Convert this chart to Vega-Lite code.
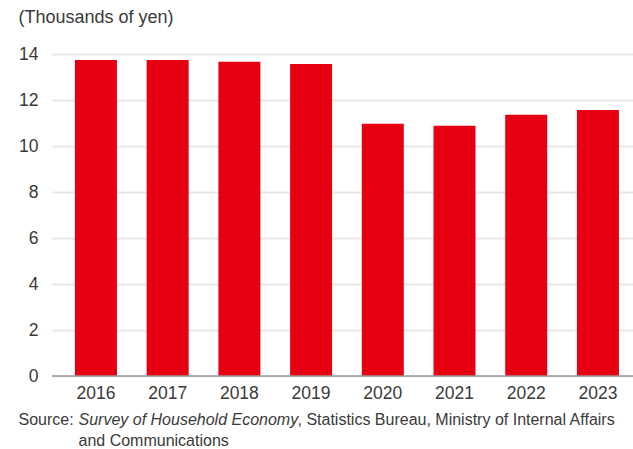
{
  "$schema": "https://vega.github.io/schema/vega-lite/v6.json",
  "width": 581,
  "height": 322,
  "autosize": {"type": "none"},
  "padding": {"left": 52, "top": 54, "right": 0, "bottom": 73},
  "background": "white",
  "config": {
    "view": {"stroke": null},
    "font": "Liberation Sans",
    "axis": {
      "labelFont": "Liberation Sans",
      "titleFont": "Liberation Sans",
      "labelColor": "#3a3a3a",
      "titleColor": "#3a3a3a",
      "titleFontWeight": "normal"
    }
  },
  "data": {
    "values": [
      {"year": "2016", "value": 13.74},
      {"year": "2017", "value": 13.74},
      {"year": "2018", "value": 13.66},
      {"year": "2019", "value": 13.57},
      {"year": "2020", "value": 10.97},
      {"year": "2021", "value": 10.88},
      {"year": "2022", "value": 11.36},
      {"year": "2023", "value": 11.57}
    ]
  },
  "layer": [
    {
      "mark": {"type": "bar", "color": "#E60012"},
      "encoding": {
        "x": {
          "field": "year",
          "type": "ordinal",
          "scale": {"paddingInner": 0.4143, "paddingOuter": 0.258, "align": 0.62},
          "axis": {
            "title": "Source:",
            "titleFontSize": 16,
            "titleAngle": 0,
            "titleAlign": "left",
            "titleBaseline": "alphabetic",
            "titleAnchor": null,
            "titleX": -34,
            "titleY": 48.5,
            "labelAngle": 0,
            "labelFontSize": 17.5,
            "labelPadding": 8,
            "ticks": false,
            "tickSize": 0,
            "domain": false
          }
        },
        "y": {
          "field": "value",
          "type": "quantitative",
          "scale": {"domain": [0, 14], "nice": false},
          "axis": {
            "title": "(Thousands of yen)",
            "titleFontSize": 18,
            "titleAngle": 0,
            "titleAlign": "left",
            "titleBaseline": "alphabetic",
            "titleAnchor": null,
            "titleX": -34,
            "titleY": -31.5,
            "values": [0, 2, 4, 6, 8, 10, 12, 14],
            "labelFontSize": 17.5,
            "labelPadding": 14,
            "ticks": false,
            "tickSize": 0,
            "domain": false,
            "grid": true,
            "gridColor": "#e8e8e8",
            "gridWidth": 2
          }
        }
      }
    },
    {
      "mark": {"type": "bar", "opacity": 0},
      "encoding": {
        "x": {
          "field": "year",
          "type": "ordinal",
          "axis": {
            "orient": "bottom",
            "title": "Survey of Household Economy",
            "titleFontSize": 16,
            "titleFontStyle": "italic",
            "titleAngle": 0,
            "titleAlign": "left",
            "titleBaseline": "alphabetic",
            "titleAnchor": null,
            "titleX": 26,
            "titleY": 48.5,
            "labels": false,
            "ticks": false,
            "domain": false,
            "grid": false
          }
        },
        "y": {"field": "value", "type": "quantitative", "axis": null}
      }
    },
    {
      "mark": {"type": "bar", "opacity": 0},
      "encoding": {
        "x": {
          "field": "year",
          "type": "ordinal",
          "axis": {
            "orient": "top",
            "title": "and Communications",
            "titleFontSize": 16,
            "titleAngle": 0,
            "titleAlign": "left",
            "titleBaseline": "alphabetic",
            "titleAnchor": null,
            "titleX": 26,
            "titleY": 391.5,
            "labels": false,
            "ticks": false,
            "domain": false,
            "grid": false
          }
        },
        "y": {"field": "value", "type": "quantitative", "axis": null}
      }
    },
    {
      "data": {"values": [{"baseline": 0}]},
      "mark": {"type": "rule", "color": "#999999", "strokeWidth": 1.5},
      "encoding": {
        "y": {
          "field": "baseline",
          "type": "quantitative",
          "axis": {
            "orient": "right",
            "title": ", Statistics Bureau, Ministry of Internal Affairs",
            "titleFontSize": 16,
            "titleAngle": 0,
            "titleAlign": "left",
            "titleBaseline": "alphabetic",
            "titleAnchor": null,
            "titleX": -336,
            "titleY": 370.5,
            "labels": false,
            "ticks": false,
            "domain": false,
            "grid": false
          }
        }
      }
    }
  ],
  "resolve": {"axis": {"x": "independent", "y": "independent"}}
}
